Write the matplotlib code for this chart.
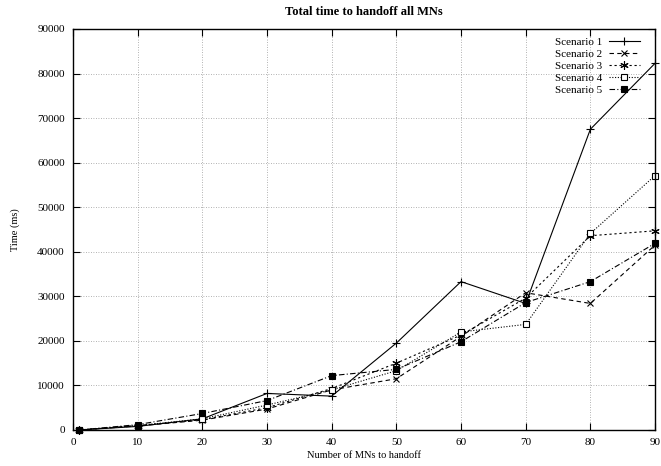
import matplotlib
matplotlib.use("Agg")
import matplotlib.pyplot as plt

# Number of MNs handed off
mns = [1, 10, 20, 30, 40, 50, 60, 70, 80, 90]

# Total handoff time (ms) per scenario
scenario1 = [0, 800, 2500, 8200, 7600, 19500, 33300, 28400, 67500, 82300]
scenario2 = [0, 900, 2200, 4700, 9000, 11500, 21000, 30800, 28400, 41500]
scenario3 = [0, 1000, 2300, 5000, 9300, 15000, 21300, 29600, 43600, 44700]
scenario4 = [0, 1000, 2500, 5600, 9000, 13300, 22000, 23700, 44100, 57100]
scenario5 = [0, 1200, 3700, 6600, 12200, 13600, 19800, 28600, 33300, 41900]

labels = ["Scenario 1", "Scenario 2", "Scenario 3", "Scenario 4", "Scenario 5"]
xticks = [0, 10, 20, 30, 40, 50, 60, 70, 80, 90]
yticks = [0, 10000, 20000, 30000, 40000, 50000, 60000, 70000, 80000, 90000]

plt.rcParams['font.family'] = ['Liberation Serif', 'DejaVu Serif']

fig = plt.figure(figsize=(6.61, 4.66), dpi=100)
ax = fig.add_axes([0.1104, 0.0773, 0.8806, 0.8605])

styles = [
    dict(linestyle='-', marker='+', markersize=6, mfc='black'),
    dict(linestyle=(0, (4, 3)), marker='x', markersize=5, mfc='black'),
    dict(linestyle=(0, (2, 2.5)), marker=(6, 2, 0), markersize=6, mfc='black'),
    dict(linestyle=(0, (1, 1.5)), marker='s', markersize=4.6, mfc='white'),
    dict(linestyle=(0, (5, 2, 1, 2)), marker='s', markersize=4.8, mfc='black'),
]
series = [scenario1, scenario2, scenario3, scenario4, scenario5]

for ys, lab, st in zip(series, labels, styles):
    ax.plot(mns, ys, color='black', linewidth=0.8, mec='black',
            markeredgewidth=0.8, label=lab, clip_on=False, **st)

ax.set_xlim(0, 90)
ax.set_ylim(0, 90000)
ax.set_xticks(xticks)
ax.set_yticks(yticks)
ax.tick_params(direction='in', length=5, width=0.8, top=True, right=True,
               labelsize=8, pad=6)
ax.grid(True, linestyle=(0, (1, 2)), color='#999999', linewidth=0.6)
for s in ax.spines.values():
    s.set_linewidth(1.0)

ax.set_xlabel('Number of MNs to handoff', fontsize=7.5, labelpad=3)
ax.set_ylabel('Time (ms)', fontsize=7.5, labelpad=12)
ax.set_title('Total time to handoff all MNs', fontsize=9, fontweight='bold', pad=10)

ax.legend(loc='upper right', bbox_to_anchor=(0.985, 0.997), frameon=False,
          markerfirst=False, fontsize=8, handlelength=2.8, labelspacing=0.2,
          borderaxespad=0.2, handletextpad=0.6)

fig.savefig('out.png', dpi=100)
